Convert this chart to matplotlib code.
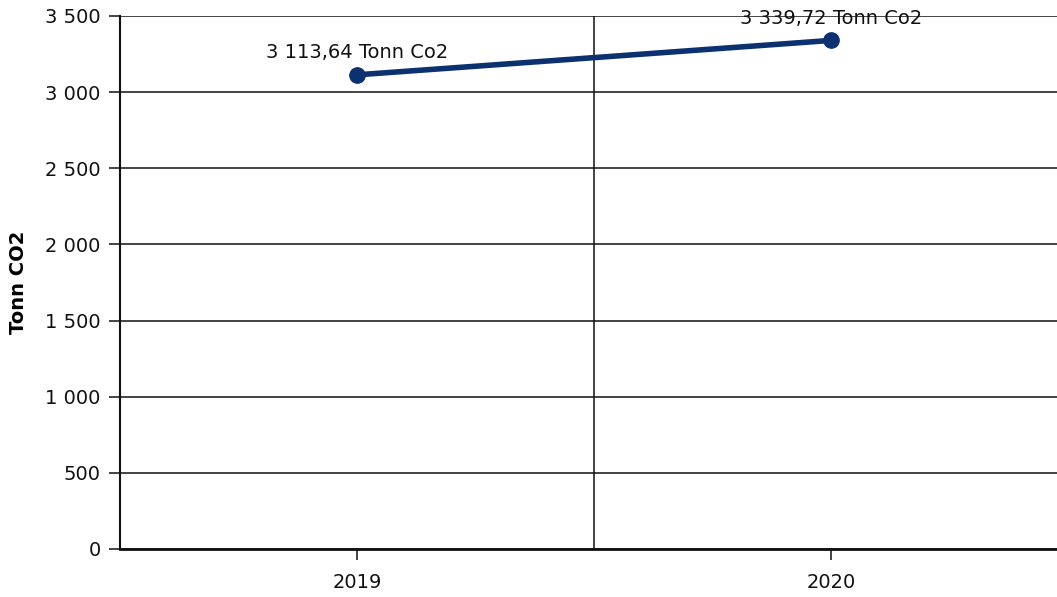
import matplotlib.pyplot as plt
from matplotlib.ticker import FuncFormatter, MultipleLocator

years = ["2019", "2020"]
values = [3113.64, 3339.72]
labels = ["3 113,64 Tonn Co2", "3 339,72 Tonn Co2"]

W, H = 1057, 597
fig = plt.figure(figsize=(W / 100, H / 100), dpi=100)
plt.rcParams['font.family'] = ['DejaVu Sans']
fs = 14

# plot area: left 120px, top 16px, bottom 549px, band width 474px per year
left, top, bottom, band = 120, 16, 549, 474
ax = fig.add_axes([left / W, (H - bottom) / H, 2 * band / W, (bottom - top) / H])

x = list(range(len(years)))
ax.plot(x, values, color="#0b3170", lw=4, marker="o", ms=11, zorder=3,
        solid_capstyle="round")
for xi, v, lab in zip(x, values, labels):
    ax.annotate(lab, (xi, v), xytext=(0, 9), textcoords="offset points",
                ha="center", va="bottom", fontsize=fs, color="#111111")

ax.set_xlim(-0.5, len(years) - 0.5)
ax.set_ylim(0, 3500)
ax.yaxis.set_major_locator(MultipleLocator(500))
ax.yaxis.set_major_formatter(FuncFormatter(lambda v, p: f"{int(v):,}".replace(",", " ")))
ax.set_xticks(x)
ax.set_xticklabels(years)
ax.set_xticks([0.5], minor=True)

ax.grid(axis="y", which="major", color="#111111", lw=1.1)
ax.grid(axis="x", which="minor", color="#111111", lw=1.1)
ax.grid(axis="x", which="major", visible=False)
ax.set_axisbelow(True)

for s in ["top", "right"]:
    ax.spines[s].set_visible(False)
ax.spines["left"].set_linewidth(1.5)
ax.spines["bottom"].set_linewidth(2)
ax.spines["left"].set_color("#111111")
ax.spines["bottom"].set_color("#111111")

ax.tick_params(axis="y", length=8, width=1.1, labelsize=fs, pad=6, colors="#111111")
ax.tick_params(axis="x", which="major", length=8, width=1.1, labelsize=fs, pad=9,
               colors="#111111")
ax.tick_params(axis="x", which="minor", length=0)

ax.set_ylabel("Tonn CO2", fontsize=fs, fontweight="bold")
ax.yaxis.set_label_coords(-(left - 28) / (2 * band), 0.5)

fig.savefig("out.png", dpi=100)
